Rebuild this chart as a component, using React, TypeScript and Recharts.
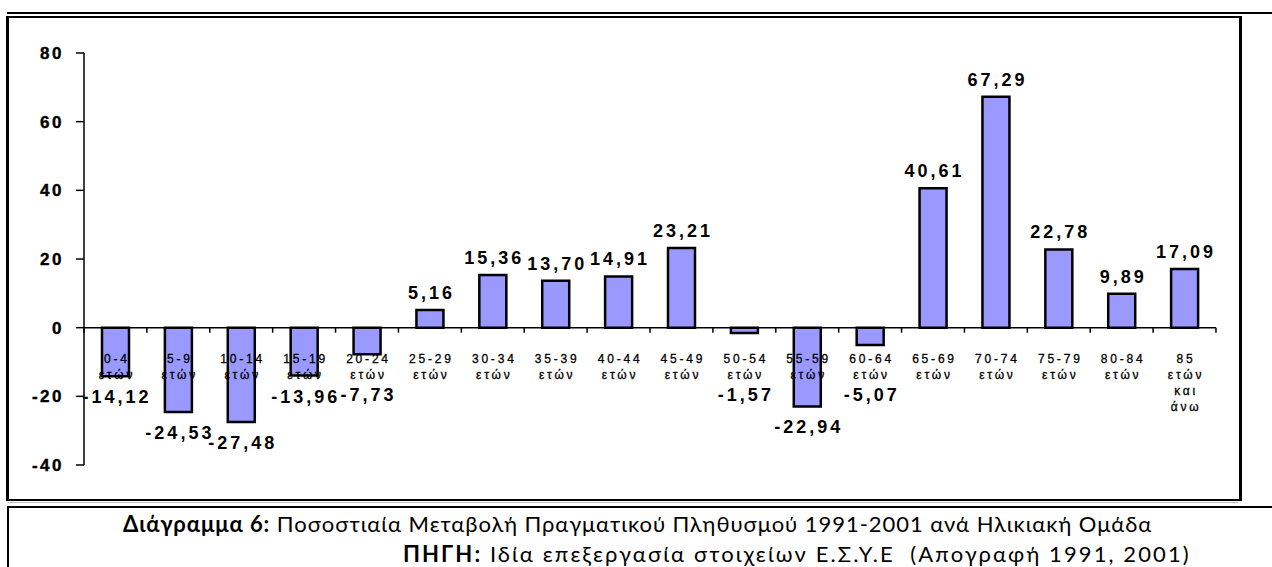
import { BarChart, Bar, XAxis, YAxis, ReferenceLine, LabelList } from 'recharts';

const CATEGORIES = [
  '0-4 ετών', '5-9 ετών', '10-14 ετών', '15-19 ετών', '20-24 ετών', '25-29 ετών',
  '30-34 ετών', '35-39 ετών', '40-44 ετών', '45-49 ετών', '50-54 ετών', '55-59 ετών',
  '60-64 ετών', '65-69 ετών', '70-74 ετών', '75-79 ετών', '80-84 ετών', '85 ετών και άνω',
];
const VALUES = [
  -14.12, -24.53, -27.48, -13.96, -7.73, 5.16, 15.36, 13.7, 14.91, 23.21,
  -1.57, -22.94, -5.07, 40.61, 67.29, 22.78, 9.89, 17.09,
];
const Y_TICKS = [-40, -20, 0, 20, 40, 60, 80];
const CAPTION_TITLE = 'Διάγραμμα 6:';
const CAPTION_TEXT = ' Ποσοστιαία Μεταβολή Πραγματικού Πληθυσμού 1991-2001 ανά Ηλικιακή Ομάδα';
const SOURCE_TITLE = 'ΠΗΓΗ:';
const SOURCE_TEXT = ' Ιδία επεξεργασία στοιχείων Ε.Σ.Υ.Ε  (Απογραφή 1991, 2001)';

const data = CATEGORIES.map((name, i) => ({ name, value: VALUES[i] }));

const W = 1272;
const H = 567;
const M = { top: 53, right: 56, bottom: 72, left: 24 };
const PLOT_W = W - M.left - 60 - M.right;
const PLOT_H = H - M.top - M.bottom - 30;
const Y_MIN = -40;
const Y_MAX = 80;
const ZERO_Y = M.top + (PLOT_H * Y_MAX) / (Y_MAX - Y_MIN);
const BAND = PLOT_W / CATEGORIES.length;
const FONT = '"Liberation Sans", Arial, sans-serif';
const CAPTION_FONT = 'Lato, sans-serif';

const fmt = (v: number) => v.toFixed(2).replace('.', ',');

function CategoryTick(props: any) {
  const { x, payload, index } = props;
  const lines = String(payload.value).split(' ');
  const last = index === CATEGORIES.length - 1;
  return (
    <g>
      <line x1={x - BAND / 2} x2={x - BAND / 2} y1={ZERO_Y} y2={ZERO_Y + 5} stroke="#000" strokeWidth={1.5} />
      {last && (
        <line x1={x + BAND / 2} x2={x + BAND / 2} y1={ZERO_Y} y2={ZERO_Y + 5} stroke="#000" strokeWidth={1.5} />
      )}
      {lines.map((t, i) => (
        <text
          key={i}
          x={x + 1.5}
          y={ZERO_Y + 35 + i * 16}
          textAnchor="middle"
          fontFamily={FONT}
          fontSize={12}
          letterSpacing={2.8}
          fill="#000"
          stroke="#000"
          strokeWidth={0.3}
        >
          {t}
        </text>
      ))}
    </g>
  );
}

function ValueLabel(props: any) {
  const { x, y, width, height, value } = props;
  const top = Math.min(y, y + height);
  const bottom = Math.max(y, y + height);
  const cx = x + width / 2 + 1.5;
  const ty = value >= 0 ? top - 11 : Math.max(bottom + 14, ZERO_Y + 60) + 13;
  return (
    <text x={cx} y={ty} textAnchor="middle" fontFamily={FONT} fontSize={18} fontWeight="bold" letterSpacing={3} fill="#000">
      {fmt(value)}
    </text>
  );
}

export default function App() {
  return (
    <div style={{ position: 'absolute', left: 0, top: 0, width: W, height: H, background: '#fff', overflow: 'hidden' }}>
      <div style={{ position: 'absolute', left: 7, top: 12, width: W - 7, height: 2, background: '#000' }} />
      <div
        style={{
          position: 'absolute', left: 6, top: 16, width: 1230, height: 481,
          borderLeft: '3px solid #000', borderRight: '3px solid #000',
          borderTop: '2px solid #000', borderBottom: '2px solid #000',
        }}
      />
      <div style={{ position: 'absolute', left: 8, top: 502, width: 1230, height: 1, background: '#bbb' }} />
      <div style={{ position: 'absolute', left: 8, top: 506, width: W - 8, height: 2, background: '#000' }} />
      <div style={{ position: 'absolute', left: 7, top: 506, width: 2, height: H - 506, background: '#000' }} />

      <div style={{ position: 'absolute', left: 0, top: 0 }}>
        <BarChart width={W} height={H} data={data} margin={M} barSize={27}>
          <YAxis
            width={60}
            domain={[Y_MIN, Y_MAX]}
            ticks={Y_TICKS}
            interval={0}
            allowDataOverflow
            axisLine={{ stroke: '#000', strokeWidth: 1.5 }}
            tickLine={{ stroke: '#000', strokeWidth: 1.5 }}
            tickSize={8}
            tickMargin={12}
            tick={{ fill: '#000', stroke: '#000', strokeWidth: 0.4, fontFamily: FONT, fontSize: 17, fontWeight: 'bold', letterSpacing: 2.5 }}
          />
          <ReferenceLine y={0} stroke="#000" strokeWidth={1.5} />
          <Bar dataKey="value" fill="#9999FF" stroke="#000" strokeWidth={2.5} isAnimationActive={false}>
            <LabelList dataKey="value" content={<ValueLabel />} />
          </Bar>
          <XAxis
            dataKey="name"
            height={30}
            axisLine={false}
            tickLine={false}
            interval={0}
            tick={<CategoryTick />}
          />
        </BarChart>
      </div>

      <div
        style={{
          position: 'absolute', left: 123, top: 511,
          fontFamily: CAPTION_FONT, fontSize: 22, letterSpacing: 0.95, lineHeight: '26px', whiteSpace: 'pre', color: '#000',
        }}
      >
        <b>{CAPTION_TITLE}</b>
        {CAPTION_TEXT}
      </div>
      <div
        style={{
          position: 'absolute', left: 403, top: 541,
          fontFamily: CAPTION_FONT, fontSize: 22, letterSpacing: 2.1, lineHeight: '26px', whiteSpace: 'pre', color: '#000',
        }}
      >
        <b>{SOURCE_TITLE}</b>
        {SOURCE_TEXT}
      </div>
    </div>
  );
}
